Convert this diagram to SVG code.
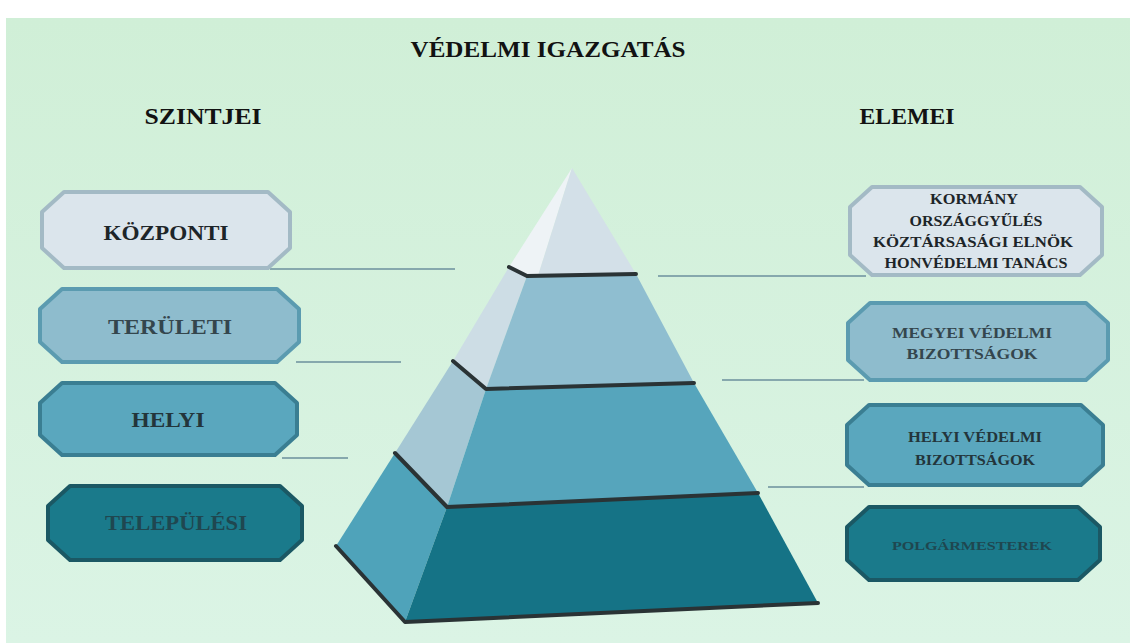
<svg xmlns="http://www.w3.org/2000/svg" width="1130" height="643" viewBox="0 0 1130 643">
<defs>
<linearGradient id="bg" x1="0" y1="0" x2="0" y2="1">
<stop offset="0" stop-color="#d0efd7"/>
<stop offset="1" stop-color="#dbf4e5"/>
</linearGradient>
</defs>
<style>
.t{font-family:"Liberation Serif","Times New Roman",serif;font-weight:bold;text-anchor:middle}
.h{font-size:24px;fill:#121212}
.lb{font-size:21px}
.rb{font-size:15px}
.conn{stroke:#86a8ad;stroke-width:2;fill:none}
.edge{stroke:#2a3335;stroke-width:4;fill:none;stroke-linejoin:round;stroke-linecap:round}
.b1{fill:#dbe5ec;stroke:#a3bac5}
.b2{fill:#8ebccd;stroke:#5b9bb0}
.b3{fill:#5aa7be;stroke:#3a7e92}
.b4{fill:#1a7a8b;stroke:#1b5864}
.box{stroke-width:4;stroke-linejoin:round}
</style>
<rect x="0" y="0" width="1130" height="643" fill="#ffffff"/>
<rect x="6" y="18" width="1124" height="625" fill="url(#bg)"/>

<g id="connectors">
<line class="conn" x1="270" y1="269" x2="455" y2="269"/>
<line class="conn" x1="296" y1="362" x2="401" y2="362"/>
<line class="conn" x1="282" y1="458" x2="348" y2="458"/>
<line class="conn" x1="658" y1="276" x2="866" y2="276"/>
<line class="conn" x1="722" y1="380" x2="864" y2="380"/>
<line class="conn" x1="768" y1="487" x2="864" y2="487"/>
</g>

<g id="pyramid">
<polygon points="572,168 538,276 527,276 509,267" fill="#eef3f6"/>
<polygon points="572,168 636,274 538,276" fill="#d3e0e8"/>
<polygon points="509,267 527,276 486,389 453,361" fill="#cddde5"/>
<polygon points="527,276 636,274 694,383 486,389" fill="#8fbed0"/>
<polygon points="453,361 486,389 447,507 395,453" fill="#a5c7d4"/>
<polygon points="486,389 694,383 758,493 447,507" fill="#56a5bc"/>
<polygon points="395,453 447,507 405,622 336,546" fill="#4fa3ba"/>
<polygon points="447,507 758,493 818,603 405,622" fill="#157386"/>
<polyline class="edge" points="509,267 527,276 636,274"/>
<polyline class="edge" points="453,361 486,389 694,383"/>
<polyline class="edge" points="395,453 447,507 758,493"/>
<polyline class="edge" points="336,546 405,622 818,603"/>
</g>

<g id="kozponti">
<path class="box b1" d="M64,192 H268 L290,212 V248 L268,268 H64 L42,248 V212 Z"/>
<text class="t lb" x="166" y="240" fill="#1d2529" textLength="125" lengthAdjust="spacingAndGlyphs">KÖZPONTI</text>
</g>
<g id="teruleti">
<path class="box b2" d="M62,289 H277 L299,309 V342 L277,362 H62 L40,342 V309 Z"/>
<text class="t lb" x="170" y="334" fill="#34464d" textLength="124" lengthAdjust="spacingAndGlyphs">TERÜLETI</text>
</g>
<g id="helyi">
<path class="box b3" d="M62,383 H275 L297,403 V435 L275,455 H62 L40,435 V403 Z"/>
<text class="t lb" x="168" y="427" fill="#23353b" textLength="73" lengthAdjust="spacingAndGlyphs">HELYI</text>
</g>
<g id="telepulesi">
<path class="box b4" d="M70,486 H280 L302,506 V540 L280,560 H70 L48,540 V506 Z"/>
<text class="t lb" x="176" y="530" fill="#1f4750" textLength="142" lengthAdjust="spacingAndGlyphs">TELEPÜLÉSI</text>
</g>

<g id="kormany">
<path class="box b1" d="M872,187 H1080 L1102,207 V255 L1080,275 H872 L850,255 V207 Z"/>
<text class="t rb" x="974" y="204" fill="#1d2529" textLength="88" lengthAdjust="spacingAndGlyphs">KORMÁNY</text>
<text class="t rb" x="976" y="226" fill="#1d2529" textLength="133" lengthAdjust="spacingAndGlyphs">ORSZÁGGYŰLÉS</text>
<text class="t rb" x="973" y="247" fill="#1d2529" textLength="200" lengthAdjust="spacingAndGlyphs">KÖZTÁRSASÁGI ELNÖK</text>
<text class="t rb" x="976" y="268" fill="#1d2529" textLength="183" lengthAdjust="spacingAndGlyphs">HONVÉDELMI TANÁCS</text>
</g>
<g id="megyei">
<path class="box b2" d="M870,303 H1086 L1108,323 V360 L1086,380 H870 L848,360 V323 Z"/>
<text class="t rb" x="972" y="338" fill="#34464d" textLength="160" lengthAdjust="spacingAndGlyphs">MEGYEI VÉDELMI</text>
<text class="t rb" x="972" y="359" fill="#34464d" textLength="131" lengthAdjust="spacingAndGlyphs">BIZOTTSÁGOK</text>
</g>
<g id="helyi-vedelmi">
<path class="box b3" d="M869,405 H1081 L1103,425 V465 L1081,485 H869 L847,465 V425 Z"/>
<text class="t rb" x="975" y="442" fill="#23353b" textLength="134" lengthAdjust="spacingAndGlyphs">HELYI VÉDELMI</text>
<text class="t rb" x="975" y="465" fill="#23353b" textLength="120" lengthAdjust="spacingAndGlyphs">BIZOTTSÁGOK</text>
</g>
<g id="polgarmesterek">
<path class="box b4" d="M869,507 H1078 L1100,527 V560 L1078,580 H869 L847,560 V527 Z"/>
<text class="t" x="972" y="550" font-size="13" fill="#1f4750" textLength="160" lengthAdjust="spacingAndGlyphs">POLGÁRMESTEREK</text>
</g>

<g id="headings">
<text class="t h" x="548" y="57" textLength="275" lengthAdjust="spacingAndGlyphs">VÉDELMI IGAZGATÁS</text>
<text class="t h" x="203" y="124" textLength="117" lengthAdjust="spacingAndGlyphs">SZINTJEI</text>
<text class="t h" x="907" y="124" textLength="95" lengthAdjust="spacingAndGlyphs">ELEMEI</text>
</g>
</svg>
